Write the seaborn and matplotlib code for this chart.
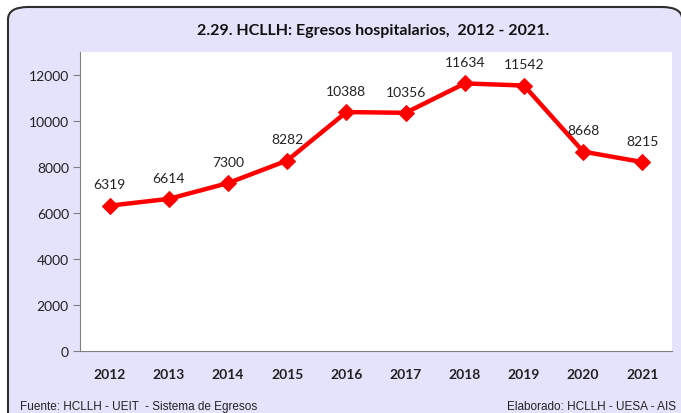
import numpy as np
import pandas as pd
import seaborn as sns
import matplotlib.pyplot as plt
from matplotlib.patches import FancyBboxPatch

years = ["2012", "2013", "2014", "2015", "2016", "2017", "2018", "2019", "2020", "2021"]
egresos = [6319, 6614, 7300, 8282, 10388, 10356, 11634, 11542, 8668, 8215]
y_ticks = [0, 2000, 4000, 6000, 8000, 10000, 12000]

title = "2.29. HCLLH: Egresos hospitalarios,  2012 - 2021."
source = "Fuente: HCLLH - UEIT  - Sistema de Egresos"
author = "Elaborado: HCLLH - UESA - AIS"

bg_color = "#E5E3FB"
line_color = "#FF0000"

sns.set_theme(style="white")
plt.rcParams['font.family'] = ['Lato', 'DejaVu Sans']

df = pd.DataFrame({"year": years, "value": egresos})

fig = plt.figure(figsize=(6.81, 4.14), dpi=100)
fig.patch.set_facecolor("white")

# rounded lavender frame, behind the axes
frame = FancyBboxPatch((8 / 681, -0.05), 0.99, 1 - 8 / 414 + 0.05,
                       boxstyle="round,pad=0,rounding_size=0.03",
                       transform=fig.transFigure, facecolor=bg_color,
                       edgecolor="#2E2E2E", linewidth=1.5, zorder=-10)
fig.patches.append(frame)

ax = fig.add_axes([80 / 681, 1 - 352 / 414, 592 / 681, 299 / 414])
ax.set_facecolor("white")

sns.lineplot(data=df, x="year", y="value", ax=ax, color=line_color,
             linewidth=3.2, marker="D", markersize=8, markeredgecolor=line_color)

for i, v in enumerate(egresos):
    ax.annotate(str(v), (i, v), xytext=(0, 11), textcoords="offset points",
                ha="center", va="bottom", fontsize=10, color="#222222")

ax.set_xlim(-0.5, len(years) - 0.5)
ax.set_ylim(0, 13000)
ax.set_yticks(y_ticks)
ax.set_yticklabels([str(t) for t in y_ticks], fontsize=10, color="#222222")
ax.set_xticks(range(len(years)))
ax.set_xticklabels(years, fontsize=10, fontweight="bold", color="#222222")
ax.set_xticks(np.arange(-0.5, len(years), 1), minor=True)
ax.tick_params(axis="x", which="major", length=0, pad=12)
ax.tick_params(axis="x", which="minor", length=5, width=0.8, color="#808080", direction="out")
ax.tick_params(axis="y", length=5, width=0.8, color="#808080", direction="out", left=True, pad=3)
ax.set_xlabel("")
ax.set_ylabel("")

for side in ["top", "right"]:
    ax.spines[side].set_visible(False)
for side in ["left", "bottom"]:
    ax.spines[side].set_color("#808080")
    ax.spines[side].set_linewidth(0.8)

fig.text(373 / 681, 1 - 31 / 414, title, ha="center", va="center",
         fontsize=11.5, fontweight="bold", color="#111111")
fig.text(20 / 681, 1 - 407 / 414, source, ha="left", va="center", fontsize=8.5,
         color="#222222", family=["Liberation Sans", "DejaVu Sans"])
fig.text(676 / 681, 1 - 407 / 414, author, ha="right", va="center", fontsize=8.5,
         color="#222222", family=["Liberation Sans", "DejaVu Sans"])

plt.savefig("out.png", dpi=100)
plt.close()
